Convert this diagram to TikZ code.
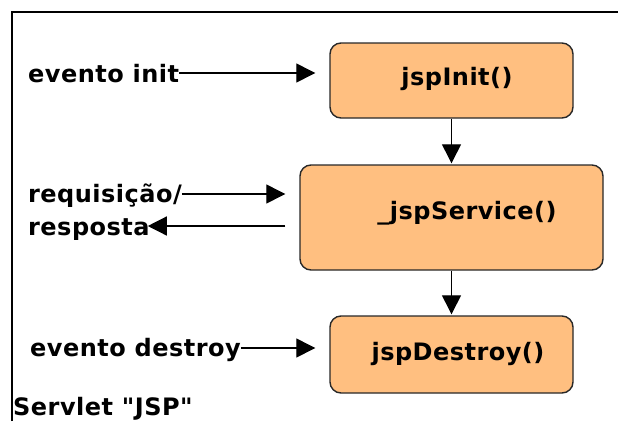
\documentclass[tikz,border=0pt]{standalone}
\usepackage{fontspec}
\setmainfont{DejaVu Sans}[LetterSpace=2, Ligatures=TeXOff]
\usetikzlibrary{arrows.meta}
\definecolor{boxfill}{RGB}{255,191,128}
\definecolor{boxline}{RGB}{40,40,40}
\tikzset{
  method/.style={draw=boxline, fill=boxfill, line width=1.4pt, rounded corners=11pt, inner sep=0pt},
  txt/.style={inner sep=0pt, anchor=base west, font=\fontsize{24}{28}\selectfont\bfseries},
  mtxt/.style={inner sep=0pt, anchor=base, font=\fontsize{24}{28}\selectfont\bfseries},
  flow/.style={line width=1.3pt, -{Triangle[length=19pt,width=19pt]}},
}
\begin{document}
\begin{tikzpicture}[x=1pt, y=-1pt]
  \useasboundingbox (0,0) rectangle (618,421);
  % container frame (open on the right and bottom)
  \coordinate (fb) at (12,421);
  \coordinate (fc) at (12,12);
  \coordinate (fr) at (618,12);
  \draw[line width=2.2pt] (fb) -- (fc) -- (fr);

  % life-cycle methods
  \node[method, minimum width=243pt, minimum height=75pt] (init) at (451.5,80.5) {};
  \node[method, minimum width=303pt, minimum height=105pt] (service) at (451.5,217.5) {};
  \node[method, minimum width=243pt, minimum height=77pt] (destroy) at (451.5,354.5) {};
  \node[mtxt] (initT) at (457,85) {jspInit()};
  \node[mtxt] (serviceT) at (467,219) {\_jspService()};
  \node[mtxt] (destroyT) at (458,360) {jspDestroy()};

  % events
  \node[txt] (ei) at (28,82) {evento init};
  \node[txt] (req) at (28,202) {requisição/};
  \node[txt] (resp) at (28,235) {resposta};
  \node[txt] (ed) at (30,356) {evento destroy};
  \node[txt] (cap) at (13,415) {Servlet "JSP"};

  % arrow rows
  \coordinate (yi) at (0,73);
  \coordinate (yq) at (0,194);
  \coordinate (yr) at (0,226);
  \coordinate (yd) at (0,348);

  \draw[flow, shorten >=14pt] (ei.east |- yi) -- (init.west |- yi);
  \draw[flow, shorten >=14pt] (req.east |- yq) -- (service.west |- yq);
  \draw[flow, shorten <=14pt, shorten >=-2pt] (service.west |- yr) -- (resp.east |- yr);
  \draw[flow, shorten >=14pt] (ed.east |- yd) -- (destroy.west |- yd);
  \draw[flow, shorten >=1pt] (init.south) -- (service.north);
  \draw[flow, shorten >=1pt] (service.south) -- (destroy.north);
\end{tikzpicture}
\end{document}
